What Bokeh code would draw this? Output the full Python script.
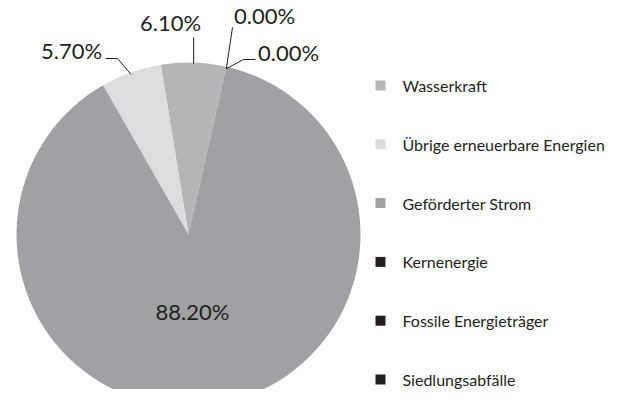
import math
from bokeh.plotting import figure
from bokeh.models import Range1d, ColumnDataSource
from bokeh.core.properties import value
from bokeh.embed import file_html
from bokeh.resources import INLINE

# ---- data ----
categories = ["Wasserkraft", "Übrige erneuerbare Energien", "Geförderter Strom",
              "Kernenergie", "Fossile Energieträger", "Siedlungsabfälle"]
shares = [6.1, 5.7, 88.2, 0.0, 0.0, 0.0]
pct_labels = ["6.10%", "5.70%", "88.20%", "0.00%", "0.00%", "0.00%"]
colors = ["#b4b5b7", "#dcdddf", "#a0a1a4", "#231f20", "#231f20", "#231f20"]

# ---- layout (image pixel coords; data y = 405 - img y) ----
W, H = 606, 389
CX, CY, R = 188, 234, 172
START = 77.3  # degrees, math convention
FONT = "Lato"
TXT = "#231f20"

def Y(v):
    return 405 - v

p = figure(width=W, height=H, output_backend="svg", toolbar_location=None,
           x_range=Range1d(0, W), y_range=Range1d(405 - H, 405), min_border=0)
p.axis.visible = False
p.grid.visible = False
p.outline_line_color = None
p.background_fill_color = "white"
p.border_fill_color = "white"

# wedge angles from data
total = sum(shares)
starts, ends = [], []
a = START
for s in shares:
    d = s / total * 360.0
    starts.append(a)
    ends.append(a + d)
    a += d

idx = [i for i, s in enumerate(shares) if s > 0]
src = ColumnDataSource(dict(
    x=[CX] * len(idx), y=[Y(CY)] * len(idx),
    start=[math.radians(starts[i]) for i in idx],
    end=[math.radians(ends[i]) for i in idx],
    color=[colors[i] for i in idx]))
p.wedge(x="x", y="y", radius=R, radius_units="screen", start_angle="start",
        end_angle="end", fill_color="color", line_color=None, source=src)

def arc_pt(i):
    m = math.radians((starts[i] + ends[i]) / 2)
    return CX + R * math.cos(m), CY - R * math.sin(m)

# label positions (center) for each category
label_pos = [(170, 22), (71, 50), (192, 311), (264, 15), (288, 52), None]
for i, pos in enumerate(label_pos):
    if pos is None:
        continue
    p.text(x=[pos[0]], y=[Y(pos[1])], text=[pct_labels[i]], text_font=value(FONT),
           text_font_size="22px", text_color=TXT, text_align="center",
           text_baseline="middle")

# leader lines
ax, ay = arc_pt(0)
p.line([ax, ax], [Y(37), Y(ay + 1)], line_color=TXT, line_width=1)
ax, ay = arc_pt(1)
p.line([105, 117, ax], [Y(58), Y(58), Y(ay + 2)], line_color=TXT, line_width=1)
ax, ay = arc_pt(3)
p.line([232, ax], [Y(27), Y(ay + 2)], line_color=TXT, line_width=1)
ax, ay = arc_pt(4)
p.line([255, 243, ax], [Y(59), Y(59), Y(ay + 2)], line_color=TXT, line_width=1)

# legend
LX, LT, LY0, LDY = 380, 402, 85, 58.8
ly = [Y(LY0 + k * LDY) for k in range(len(categories))]
p.scatter(x=[LX] * len(categories), y=ly, marker="square", size=10,
          fill_color=colors, line_color=None)
p.text(x=[LT] * len(categories), y=ly, text=categories, text_font=value(FONT),
       text_font_size="16px", text_color=TXT, text_align="left",
       text_baseline="middle")

open("out.html", "w").write(file_html(p, INLINE))
